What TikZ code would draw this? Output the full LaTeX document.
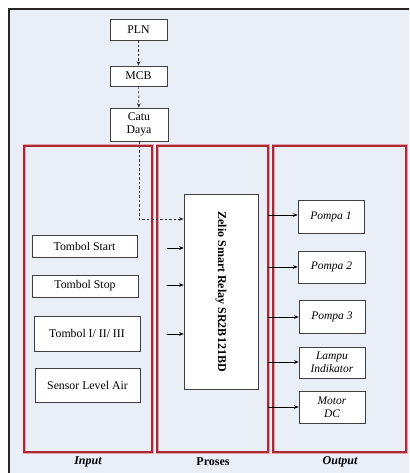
\documentclass[tikz,border=0pt]{standalone}
\usepackage{fontspec}
\setmainfont{Liberation Serif}
\usetikzlibrary{arrows.meta}
\definecolor{bgfill}{HTML}{EAEEF6}
\definecolor{redline}{HTML}{A82A36}
\definecolor{redglow}{HTML}{E8A0A6}
\tikzset{
  box/.style={draw=black!75, line width=0.6pt, fill=white, inner sep=1pt, align=center,
    font=\fontsize{11.8}{13}\selectfont},
  obox/.style={box, font=\fontsize{11.5}{13}\selectfont\itshape},
  arr/.style={line width=0.6pt, -{Stealth[length=4.5pt,width=3.6pt]}},
  darr/.style={arr, draw=black!80, dashed, dash pattern=on 2.5pt off 2pt},
  panelglow/.style={draw=redglow, line width=3pt},
  panel/.style={draw=redline, line width=1.6pt},
  lbl/.style={font=\fontsize{12}{13}\selectfont\bfseries}
}
\begin{document}
\begin{tikzpicture}[x=1pt,y=-1pt]
\useasboundingbox (0,0) rectangle (409,473);
\begin{scope}
\clip (0,0) rectangle (409,473);
\fill[white] (0,0) rectangle (409,473);
\draw[fill=bgfill, line width=2.4pt, draw=black!85] (9,9) rectangle (420,490);
\end{scope}
% panels
\foreach \a/\b in {24/152,157/268,273/406}{
  \draw[panelglow] (\a,146) rectangle (\b,452);
  \draw[panel] (\a,146) rectangle (\b,452);
}
\node[lbl, font=\fontsize{12}{13}\selectfont\bfseries\itshape] (lin) at (88,462) {Input};
\node[lbl] (lpr) at (213,462) {Proses};
\node[lbl, font=\fontsize{12}{13}\selectfont\bfseries\itshape] (lout) at (340,462) {Output};
% top chain
\node[box, minimum width=57pt, minimum height=21pt] (pln) at (138.5,29.5) {PLN};
\node[box, minimum width=57pt, minimum height=20pt] (mcb) at (138.5,76) {MCB};
\node[box, minimum width=58pt, minimum height=33pt] (catu) at (139,124.5) {Catu\\Daya};
% relay
\node[box, minimum width=74pt, minimum height=195pt] (relay) at (221,291.5) {};
\node[rotate=-90, font=\fontsize{12}{14}\selectfont\bfseries] (rtext) at (relay.center) {Zelio Smart Relay SR2B121BD};
\draw[darr] (pln) -- (mcb);
\draw[darr] (mcb) -- (catu);
\coordinate (dj) at (139,219);
\draw[darr] (catu.south) -- (dj) -- (relay.west |- dj);
% inputs
\node[box, minimum width=105pt, minimum height=22pt] (start) at (84.5,246) {Tombol Start};
\node[box, minimum width=106pt, minimum height=22pt] (stop) at (85,286) {Tombol Stop};
\node[box, minimum width=106pt, minimum height=35pt] (tomb) at (87,333.5) {Tombol I/ II/ III};
\node[box, minimum width=105pt, minimum height=34pt] (sensor) at (87.5,385) {Sensor Level Air};
\coordinate (i1) at (167,248);
\coordinate (i2) at (167,285);
\coordinate (i3) at (167,334);
\draw[arr] (i1) -- (relay.west |- i1);
\draw[arr] (i2) -- (relay.west |- i2);
\draw[arr] (i3) -- (relay.west |- i3);
% outputs
\node[obox, minimum width=66pt, minimum height=33pt] (p1) at (331,216.5) {Pompa 1};
\node[obox, minimum width=67pt, minimum height=32pt] (p2) at (331.5,267) {Pompa 2};
\node[obox, minimum width=66pt, minimum height=33pt] (p3) at (332,316.5) {Pompa 3};
\node[obox, minimum width=66pt, minimum height=31pt] (lampu) at (332,362.5) {Lampu\\Indikator};
\node[obox, minimum width=66pt, minimum height=32pt] (motor) at (332,407) {Motor\\DC};
\coordinate (o1) at (268,215);
\coordinate (o2) at (268,267);
\coordinate (o3) at (268,317);
\coordinate (o4) at (268,362);
\coordinate (o5) at (268,407);
\draw[arr] (o1) -- (p1.west |- o1);
\draw[arr] (o2) -- (p2.west |- o2);
\draw[arr] (o3) -- (p3.west |- o3);
\draw[arr] (o4) -- (lampu.west |- o4);
\draw[arr] (o5) -- (motor.west |- o5);
\end{tikzpicture}
\end{document}
